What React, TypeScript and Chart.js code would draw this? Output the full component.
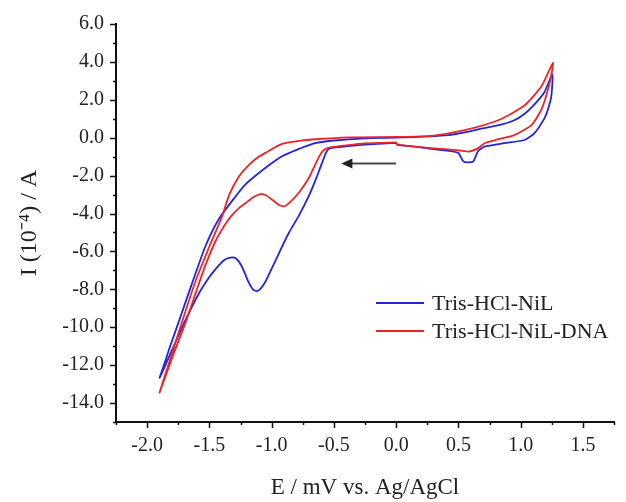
import React, { useEffect, useRef } from 'react';
import { Chart, registerables } from 'chart.js';

Chart.register(...registerables);

// ---- Data (potential in V, current in 10^-4 A) ----
const seriesLabels = ['Tris-HCl-NiL', 'Tris-HCl-NiL-DNA'];
const seriesColors = ['#2424d8', '#e8262a'];

// Tris-HCl-NiL : cathodic sweep from 0 V, return sweep to +1.25 V, back to 0 V
const potentialNiL = [
  0.0, -0.15, -0.28, -0.4, -0.5, -0.54, -0.56, -0.58, -0.61, -0.65, -0.7, -0.78, -0.86, -0.92, -0.97,
  -1.01, -1.05, -1.09, -1.12, -1.15, -1.19, -1.24, -1.29, -1.33, -1.38, -1.44, -1.5, -1.58, -1.69, -1.8, -1.86, -1.9,
  -1.86, -1.82, -1.74, -1.64, -1.53, -1.42, -1.29, -1.21, -1.1, -1.0, -0.92, -0.85, -0.78, -0.65, -0.52, -0.25,
  0.0, 0.42, 0.6, 0.69, 0.85, 0.95, 1.03, 1.09, 1.19, 1.255,
  1.247, 1.22, 1.19, 1.11, 1.03, 0.87, 0.71, 0.66, 0.62, 0.58, 0.54, 0.5, 0.42, 0.285, 0.15, 0.01, 0.0,
];
const currentNiL = [
  -0.27, -0.33, -0.38, -0.45, -0.52, -0.58, -0.75, -1.07, -1.59, -2.28, -3.06, -4.1, -5.0, -5.8, -6.5,
  -7.05, -7.6, -7.98, -8.1, -8.0, -7.55, -6.78, -6.35, -6.33, -6.45, -6.85, -7.35, -8.17, -9.6, -11.2, -12.1, -12.67,
  -11.9, -11.1, -9.6, -7.7, -5.7, -4.25, -3.1, -2.46, -1.85, -1.35, -0.99, -0.78, -0.59, -0.29, -0.16, -0.03,
  0.0, 0.14, 0.35, 0.49, 0.7, 0.92, 1.25, 1.61, 2.39, 3.35,
  2.22, 1.5, 1.01, 0.23, -0.12, -0.29, -0.47, -0.69, -1.25, -1.3, -1.25, -0.81, -0.69, -0.59, -0.47, -0.38, -0.27,
];

// Tris-HCl-NiL-DNA
const potentialDNA = [
  0.0, -0.25, -0.4, -0.52, -0.57, -0.61, -0.65, -0.7, -0.78, -0.86, -0.9, -0.94, -0.99, -1.05, -1.09,
  -1.14, -1.2, -1.26, -1.32, -1.38, -1.45, -1.53, -1.6, -1.69, -1.8, -1.9,
  -1.85, -1.82, -1.72, -1.61, -1.5, -1.4, -1.34, -1.26, -1.18, -1.12, -1.05, -0.92, -0.78, -0.65, -0.38,
  0.02, 0.285, 0.55, 0.82, 1.03, 1.17, 1.26,
  1.234, 1.17, 1.087, 0.95, 0.82, 0.71, 0.66, 0.58, 0.47, 0.285, 0.15, 0.01, 0.0,
];
const currentDNA = [
  -0.25, -0.3, -0.4, -0.5, -0.6, -0.9, -1.42, -2.11, -2.89, -3.45, -3.62, -3.55, -3.3, -3.02, -2.98,
  -3.12, -3.4, -3.7, -4.1, -4.65, -5.45, -6.7, -8.0, -9.73, -11.63, -13.45,
  -12.4, -11.8, -9.73, -7.55, -5.74, -4.19, -3.0, -2.02, -1.42, -1.08, -0.8, -0.34, -0.17, -0.08, 0.02,
  0.04, 0.1, 0.4, 0.92, 1.7, 2.74, 3.95,
  2.91, 1.53, 0.66, 0.14, -0.08, -0.29, -0.55, -0.73, -0.64, -0.55, -0.47, -0.36, -0.25,
];

// Scan-direction arrow (data coordinates)
const arrowTail = [0.0, -1.36];
const arrowHead = [-0.44, -1.36];

const xRange = [-2.25, 1.75];
const yRange = [-15, 6];
const xTitle = 'E / mV vs. Ag/AgCl';
const yTitle = 'I (10\u207B\u2074) / A';

const SERIF = '"Liberation Serif", "Times New Roman", serif';

const toPoints = (xs: number[], ys: number[]) => xs.map((x, i) => ({ x, y: ys[i] }));

const isMultiple = (v: number, step: number) => Math.abs(v / step - Math.round(v / step)) < 1e-6;

const decorPlugin = {
  id: 'decor',
  afterDraw(chart: any) {
    const { ctx, chartArea, scales } = chart;
    const xs = scales.x;
    const ys = scales.y;
    ctx.save();
    // tick marks (major + minor), outside the axes
    ctx.strokeStyle = '#111';
    ctx.lineWidth = 1.5;
    ctx.beginPath();
    for (let i = Math.round(xRange[0] / 0.25); i <= Math.round(xRange[1] / 0.25); i++) {
      const v = i * 0.25;
      const px = Math.round(xs.getPixelForValue(v)) + 0.5;
      const len = isMultiple(v, 0.5) ? 6 : 3;
      ctx.moveTo(px, chartArea.bottom);
      ctx.lineTo(px, chartArea.bottom + len);
    }
    for (let v = yRange[0]; v <= yRange[1]; v++) {
      const py = Math.round(ys.getPixelForValue(v)) + 0.5;
      const len = isMultiple(v, 2) ? 6 : 3;
      ctx.moveTo(chartArea.left, py);
      ctx.lineTo(chartArea.left - len, py);
    }
    ctx.stroke();

    // arrow
    const tx = xs.getPixelForValue(arrowTail[0]);
    const ty = ys.getPixelForValue(arrowTail[1]);
    const hx = xs.getPixelForValue(arrowHead[0]);
    const hy = ys.getPixelForValue(arrowHead[1]);
    ctx.strokeStyle = '#4a4a4a';
    ctx.fillStyle = '#222';
    ctx.lineWidth = 2;
    ctx.beginPath();
    ctx.moveTo(tx, ty);
    ctx.lineTo(hx + 9, hy);
    ctx.stroke();
    ctx.beginPath();
    ctx.moveTo(hx, hy);
    ctx.lineTo(hx + 11, hy - 5);
    ctx.lineTo(hx + 11, hy + 5);
    ctx.closePath();
    ctx.fill();

    // legend
    const lx = chartArea.left + 260;
    const ly = chartArea.top + 279;
    chart.data.datasets.forEach((ds: any, i: number) => {
      const y = ly + i * 28;
      ctx.strokeStyle = ds.borderColor;
      ctx.lineWidth = 2;
      ctx.beginPath();
      ctx.moveTo(lx, y);
      ctx.lineTo(lx + 48, y);
      ctx.stroke();
      ctx.fillStyle = '#222';
      ctx.font = `22px ${SERIF}`;
      ctx.textBaseline = 'middle';
      ctx.textAlign = 'left';
      ctx.fillText(ds.label, lx + 56, y + 1);
    });
    ctx.restore();
  },
};

export default function App() {
  const canvasRef = useRef<HTMLCanvasElement | null>(null);

  useEffect(() => {
    const canvas = canvasRef.current;
    if (!canvas) return;
    const chart = new Chart(canvas, {
      type: 'scatter',
      data: {
        datasets: [
          {
            label: seriesLabels[0],
            data: toPoints(potentialNiL, currentNiL),
            borderColor: seriesColors[0],
            backgroundColor: seriesColors[0],
            borderWidth: 1.8,
            showLine: true,
            pointRadius: 0,
            tension: 0.2,
            order: 1,
          },
          {
            label: seriesLabels[1],
            data: toPoints(potentialDNA, currentDNA),
            borderColor: seriesColors[1],
            backgroundColor: seriesColors[1],
            borderWidth: 1.8,
            showLine: true,
            pointRadius: 0,
            tension: 0.2,
            order: 0,
          },
        ],
      },
      options: {
        responsive: false,
        animation: false,
        layout: { padding: { top: 16, right: 10, bottom: 0, left: 0 } },
        plugins: {
          legend: { display: false },
          tooltip: { enabled: false },
        },
        scales: {
          x: {
            type: 'linear',
            min: xRange[0],
            max: xRange[1],
            grid: { display: false, drawTicks: false },
            border: { display: true, color: '#111', width: 2 },
            ticks: {
              stepSize: 0.25,
              autoSkip: false,
              maxRotation: 0,
              minRotation: 0,
              padding: 12,
              color: '#222',
              font: { family: SERIF, size: 20 },
              callback: (v: any) => (isMultiple(Number(v), 0.5) ? Number(v).toFixed(1) : ''),
            },
            title: {
              display: true,
              text: xTitle,
              color: '#222',
              font: { family: SERIF, size: 23 },
              padding: { top: 0, bottom: 0 },
            },
            afterFit: (scale: any) => {
              scale.height = 80;
            },
          },
          y: {
            type: 'linear',
            min: yRange[0],
            max: yRange[1],
            grid: { display: false, drawTicks: false },
            border: { display: true, color: '#111', width: 2 },
            ticks: {
              stepSize: 1,
              autoSkip: false,
              padding: 12,
              color: '#222',
              font: { family: SERIF, size: 20 },
              callback: (v: any) => (isMultiple(Number(v), 2) ? Number(v).toFixed(1) : ''),
            },
            title: {
              display: true,
              text: yTitle,
              color: '#222',
              font: { family: SERIF, size: 24 },
              padding: { top: 15, bottom: 0 },
            },
            afterFit: (scale: any) => {
              scale.width = 116;
            },
          },
        },
      },
      plugins: [decorPlugin],
    });
    return () => chart.destroy();
  }, []);

  return (
    <div style={{ position: 'fixed', left: 0, top: 0, width: 626, height: 502, background: '#fff' }}>
      <canvas ref={canvasRef} width={626} height={502} style={{ display: 'block' }} />
    </div>
  );
}
